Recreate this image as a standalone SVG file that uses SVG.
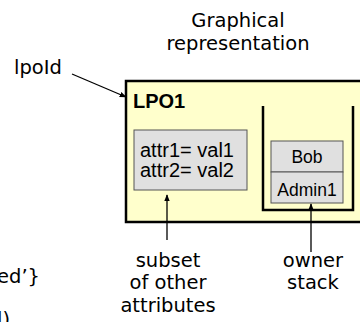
<svg xmlns="http://www.w3.org/2000/svg" width="360" height="322" viewBox="0 0 360 322">
  <defs>
    <marker id="arrow" viewBox="0 0 10 10" refX="9" refY="5" markerWidth="7" markerHeight="8" markerUnits="userSpaceOnUse" orient="auto">
      <path d="M0,1 L10,5 L0,9 z" fill="#000"/>
    </marker>
    <style>
      .hand { font-family: "Comic Sans MS", "DejaVu Sans", sans-serif; font-size: 19.5px; fill: #000; }
      .sans { font-family: "Liberation Sans", Arial, sans-serif; fill: #000; }
      .cell { fill: #e0e0e0; stroke: #555; stroke-width: 1; }
      .wall { fill: none; stroke: #000; stroke-width: 2.5; }
      .conn { stroke: #000; stroke-width: 1.3; fill: none; marker-end: url(#arrow); }
    </style>
  </defs>

  <!-- text running off the left edge -->
  <text class="hand" x="-3" y="283">ed’}</text>
  <text class="hand" x="-10" y="326">d)</text>

  <!-- caption -->
  <g id="caption">
    <text class="hand" x="238" y="27" text-anchor="middle">Graphical</text>
    <text class="hand" x="238" y="50" text-anchor="middle">representation</text>
  </g>

  <g id="lpoIdLabel">
    <text class="hand" x="14" y="74">lpoId</text>
  </g>

  <!-- LPO object -->
  <g id="lpo">
    <rect x="126" y="81" width="240" height="141" fill="#ffffcc" stroke="#000" stroke-width="2.5"/>
    <text class="sans" x="133" y="108" font-size="20" font-weight="bold">LPO1</text>
  </g>

  <g id="attributes">
    <rect class="cell" x="134" y="130" width="113" height="60"/>
    <text class="sans" x="140" y="157" font-size="20">attr1= val1</text>
    <text class="sans" x="140" y="177" font-size="20">attr2= val2</text>
  </g>

  <g id="ownerStack">
    <path class="wall" d="M263,106 V210 H353 V106"/>
  </g>

  <g id="bob">
    <rect class="cell" x="271" y="141" width="72" height="31"/>
    <text class="sans" x="307" y="163" font-size="17.5" text-anchor="middle">Bob</text>
  </g>

  <g id="admin1">
    <rect class="cell" x="271" y="172" width="72" height="31"/>
    <text class="sans" x="307" y="196" font-size="17.5" text-anchor="middle">Admin1</text>
  </g>

  <g id="subsetLabel">
    <text class="hand" x="168" y="267" text-anchor="middle">subset</text>
    <text class="hand" x="168" y="289" text-anchor="middle">of other</text>
    <text class="hand" x="168" y="312" text-anchor="middle">attributes</text>
  </g>

  <g id="ownerLabel">
    <text class="hand" x="313" y="267" text-anchor="middle">owner</text>
    <text class="hand" x="313" y="289" text-anchor="middle">stack</text>
  </g>

  <!-- connectors -->
  <g id="connectors">
    <line class="conn" x1="72" y1="74" x2="126" y2="97"/>
    <line class="conn" x1="167" y1="240" x2="167" y2="195"/>
    <line class="conn" x1="311" y1="252" x2="311" y2="204"/>
  </g>
</svg>
